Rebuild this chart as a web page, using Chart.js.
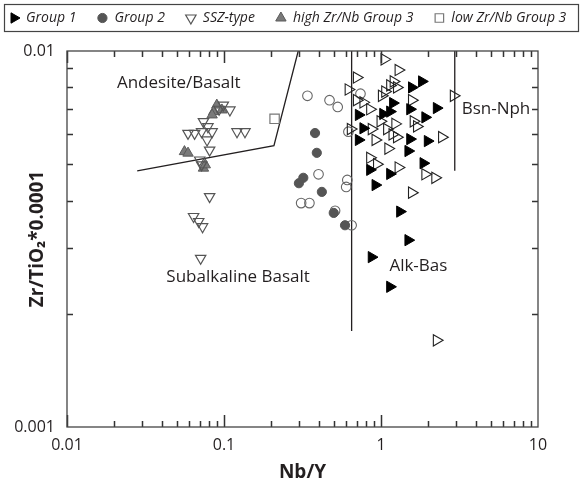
<!DOCTYPE html>
<html>
<head>
<meta charset="utf-8">
<script src="https://cdn.jsdelivr.net/npm/chart.js@4.4.1/dist/chart.umd.min.js"></script>
<style>
  html, body { margin: 0; padding: 0; background: #fff; }
  #wrap { width: 582px; height: 487px; }
</style>
</head>
<body>
<div id="wrap"><canvas id="chart" width="582" height="487"></canvas></div>
<script>
// Nb/Y vs Zr/TiO2*0.0001 (log-log)

const group1X = [1.82, 1.57, 2.26, 1.53, 1.14, 1.19, 0.72, 1.91, 0.77, 0.72, 1.53, 1.98, 1.49, 1.86, 0.85, 1.14, 0.92, 1.32, 1.49, 0.87, 1.14, 1.03];
const group1Y = [0.0083, 0.0080, 0.00705, 0.0070, 0.0069, 0.00727, 0.00676, 0.00666, 0.00623, 0.0058, 0.00583, 0.00576, 0.00542, 0.00503, 0.00483, 0.00471, 0.0044, 0.00374, 0.00314, 0.00283, 0.00236, 0.0068];

const group1OpenX = [1.05, 1.29, 0.70, 0.62, 1.20, 1.14, 1.26, 1.06, 1.01, 0.70, 0.77, 0.85, 1.57, 0.64, 0.87, 0.99, 1.09, 1.23, 1.18, 1.26, 1.11, 1.61, 1.69, 2.44, 0.85, 0.94, 1.29, 1.91, 2.21, 1.57, 2.9, 2.26, 0.92];
const group1OpenY = [0.0095, 0.0089, 0.0085, 0.0079, 0.0083, 0.0081, 0.0080, 0.0078, 0.0076, 0.0074, 0.0073, 0.0070, 0.0074, 0.0062, 0.0062, 0.0065, 0.0062, 0.0064, 0.0060, 0.0059, 0.0055, 0.0065, 0.0063, 0.0059, 0.0052, 0.0050, 0.0049, 0.0047, 0.0046, 0.0042, 0.0076, 0.0017, 0.0058];

const group2X = [0.38, 0.39, 0.32, 0.30, 0.42, 0.50, 0.59];
const group2Y = [0.00605, 0.00536, 0.0046, 0.00445, 0.00422, 0.00371, 0.00344];

const group2OpenX = [0.34, 0.47, 0.53, 0.74, 0.62, 0.40, 0.61, 0.60, 0.31, 0.35, 0.51, 0.65];
const group2OpenY = [0.0076, 0.0074, 0.0071, 0.0077, 0.0061, 0.0047, 0.00454, 0.00435, 0.00394, 0.00394, 0.00376, 0.00344];

const sszX = [0.099, 0.109, 0.074, 0.079, 0.059, 0.065, 0.072, 0.084, 0.121, 0.136, 0.078, 0.081, 0.070, 0.072, 0.093, 0.081, 0.064, 0.069, 0.073, 0.071];
const sszY = [0.00718, 0.00697, 0.00649, 0.00629, 0.00604, 0.00604, 0.0061, 0.0061, 0.0061, 0.0061, 0.0058, 0.00545, 0.00513, 0.00498, 0.0070, 0.0041, 0.00363, 0.00352, 0.00341, 0.00281];

const highZrNbX = [0.090, 0.086, 0.084, 0.097, 0.056, 0.059, 0.074, 0.076];
const highZrNbY = [0.00718, 0.0069, 0.00676, 0.00697, 0.0054, 0.00535, 0.00488, 0.00498];

const lowZrNbX = [0.21];
const lowZrNbY = [0.0066];

// field boundaries
const andesiteLineX = [0.028, 0.208, 0.297];
const andesiteLineY = [0.0048, 0.0056, 0.01];
const alkBasLineX = [0.65, 0.65];
const alkBasLineY = [0.01, 0.0018];
const bsnNphLineX = [2.95, 2.95];
const bsnNphLineY = [0.01, 0.0048];

// field names
const fieldNames = ['Andesite/Basalt', 'Subalkaline Basalt', 'Alk-Bas', 'Bsn-Nph'];
const fieldX = [0.0515, 0.123, 1.73, 5.4];
const fieldY = [0.0082, 0.0025, 0.00267, 0.0070];

const xTickValues = [0.01, 0.1, 1, 10];
const xTickLabels = ['0.01', '0.1', '1', '10'];
const yTickValues = [0.001, 0.01];
const yTickLabels = ['0.001', '0.01'];

const FONT = '"Open Sans", "DejaVu Sans", sans-serif';
const INK = '#231f20';

function zip(xs, ys) {
    return xs.map(function (x, i) { return {x: x, y: ys[i]}; });
}

function boundary(xs, ys) {
    return {
        data: zip(xs, ys),
        showLine: true,
        pointRadius: 0,
        borderColor: INK,
        borderWidth: 1.3,
        order: 10
    };
}

const datasets = [
    { label: 'Group 1', data: zip(group1X, group1Y), pointStyle: 'triangle', rotation: 90,
      pointRadius: 6.5, backgroundColor: '#000', borderColor: '#000', borderWidth: 1 },
    { label: 'Group 2', data: zip(group2X, group2Y), pointStyle: 'circle',
      pointRadius: 4.6, backgroundColor: '#555', borderColor: '#555', borderWidth: 1 },
    { label: 'SSZ-type', data: zip(sszX, sszY), pointStyle: 'triangle', rotation: 180,
      pointRadius: 6, backgroundColor: 'rgba(0,0,0,0)', borderColor: '#555', borderWidth: 1.2 },
    { label: 'high Zr/Nb Group 3', data: zip(highZrNbX, highZrNbY), pointStyle: 'triangle',
      pointRadius: 6, backgroundColor: '#7a7a7a', borderColor: '#5a5a5a', borderWidth: 1 },
    { label: 'low Zr/Nb Group 3', data: zip(lowZrNbX, lowZrNbY), pointStyle: 'rect',
      pointRadius: 6.6, backgroundColor: '#fff', borderColor: '#777', borderWidth: 1.2 },
    { label: 'Group 1 (open)', data: zip(group1OpenX, group1OpenY), pointStyle: 'triangle', rotation: 90,
      pointRadius: 6.5, backgroundColor: 'rgba(0,0,0,0)', borderColor: '#222', borderWidth: 1.1 },
    { label: 'Group 2 (open)', data: zip(group2OpenX, group2OpenY), pointStyle: 'circle',
      pointRadius: 4.8, backgroundColor: 'rgba(0,0,0,0)', borderColor: '#666', borderWidth: 1.1 },
    boundary(andesiteLineX, andesiteLineY),
    boundary(alkBasLineX, alkBasLineY),
    boundary(bsnNphLineX, bsnNphLineY)
];

// which datasets get a legend entry
const legendItems = [0, 1, 2, 3, 4];

// minor/major tick positions of the log axes
const xTickMarks = [];
[0.01, 0.1, 1].forEach(function (dec) {
    for (let m = 1; m < 10; m++) xTickMarks.push({ v: m * dec, major: m === 1 });
});
const yTickMarks = [];
for (let m = 2; m < 10; m++) yTickMarks.push(m * 0.001);

const framePlugin = {
    id: 'frame',
    afterDraw(chart) {
        const ctx = chart.ctx;
        const a = chart.chartArea;
        const sx = chart.scales.x, sy = chart.scales.y;
        const top = Math.round(a.top), bottom = Math.round(a.bottom);
        const left = Math.round(a.left), right = Math.round(a.right);
        ctx.save();
        ctx.strokeStyle = '#333';
        ctx.lineWidth = 1.5;
        ctx.beginPath();
        xTickMarks.forEach(function (t) {
            const len = t.major ? 12 : 6;
            const px = Math.round(sx.getPixelForValue(t.v)) + 0.5;
            ctx.moveTo(px, bottom);
            ctx.lineTo(px, bottom - len);
            ctx.moveTo(px, top);
            ctx.lineTo(px, top + len);
        });
        yTickMarks.forEach(function (v) {
            const py = Math.round(sy.getPixelForValue(v)) + 0.5;
            ctx.moveTo(left, py);
            ctx.lineTo(left + 6, py);
            ctx.moveTo(right, py);
            ctx.lineTo(right - 6, py);
        });
        ctx.stroke();
        ctx.lineWidth = 1.3;
        ctx.strokeStyle = '#444';
        ctx.strokeRect(left, top, right - left, bottom - top);

        ctx.fillStyle = INK;
        ctx.font = '17px ' + FONT;
        ctx.textAlign = 'center';
        ctx.textBaseline = 'middle';
        fieldNames.forEach(function (t, i) {
            ctx.fillText(t, sx.getPixelForValue(fieldX[i]), sy.getPixelForValue(fieldY[i]));
        });
        ctx.restore();
    }
};

const legendPlugin = {
    id: 'boxLegend',
    afterDraw(chart) {
        const ctx = chart.ctx;
        ctx.save();
        ctx.strokeStyle = '#444';
        ctx.lineWidth = 1.2;
        ctx.strokeRect(4.5, 4.5, 574, 27);
        ctx.font = 'italic 14px ' + FONT;
        ctx.textBaseline = 'middle';
        ctx.textAlign = 'left';
        let cx = 14;
        const cy = 18;
        legendItems.forEach(function (i) {
            const ds = chart.data.datasets[i];
            ctx.fillStyle = ds.backgroundColor;
            ctx.strokeStyle = ds.borderColor;
            ctx.lineWidth = ds.borderWidth;
            Chart.helpers.drawPoint(ctx, {
                pointStyle: ds.pointStyle,
                rotation: ds.rotation || 0,
                radius: Math.min(ds.pointRadius, 6),
                borderWidth: ds.borderWidth
            }, cx, cy);
            ctx.fillStyle = INK;
            ctx.fillText(ds.label, cx + 12, cy);
            cx += 12 + ctx.measureText(ds.label).width + 26;
        });
        ctx.restore();
    }
};

new Chart(document.getElementById('chart'), {
    type: 'scatter',
    data: { datasets: datasets },
    options: {
        responsive: false,
        animation: false,
        devicePixelRatio: 1,
        layout: { padding: { top: 51, right: 44, bottom: 0, left: 0 } },
        plugins: { legend: { display: false }, tooltip: { enabled: false } },
        scales: {
            x: {
                type: 'logarithmic',
                min: 0.01, max: 10,
                afterFit: function (s) { s.height = 60; },
                afterBuildTicks: function (s) { s.ticks = xTickValues.map(function (v) { return {value: v}; }); },
                grid: { display: false, drawTicks: false },
                border: { display: false },
                ticks: {
                    autoSkip: false, maxRotation: 0, padding: 9, color: INK,
                    font: { family: FONT, size: 16 },
                    callback: function (v, i) { return xTickLabels[i]; }
                },
                title: {
                    display: true, text: 'Nb/Y', color: INK,
                    font: { family: FONT, size: 19, weight: 'bold' },
                    padding: { top: 0, bottom: 3 }
                }
            },
            y: {
                type: 'logarithmic',
                min: 0.001, max: 0.01,
                afterFit: function (s) { s.width = 67; },
                afterBuildTicks: function (s) { s.ticks = yTickValues.map(function (v) { return {value: v}; }); },
                grid: { display: false, drawTicks: false },
                border: { display: false },
                ticks: {
                    autoSkip: false, padding: 12, color: INK,
                    font: { family: FONT, size: 16 },
                    callback: function (v, i) { return yTickLabels[i]; }
                },
                title: {
                    display: true, text: 'Zr/TiO\u2082*0.0001', color: INK,
                    font: { family: FONT, size: 19, weight: 'bold' },
                    padding: { top: 26, bottom: 0 }
                }
            }
        }
    },
    plugins: [framePlugin, legendPlugin]
});
</script>
</body>
</html>
